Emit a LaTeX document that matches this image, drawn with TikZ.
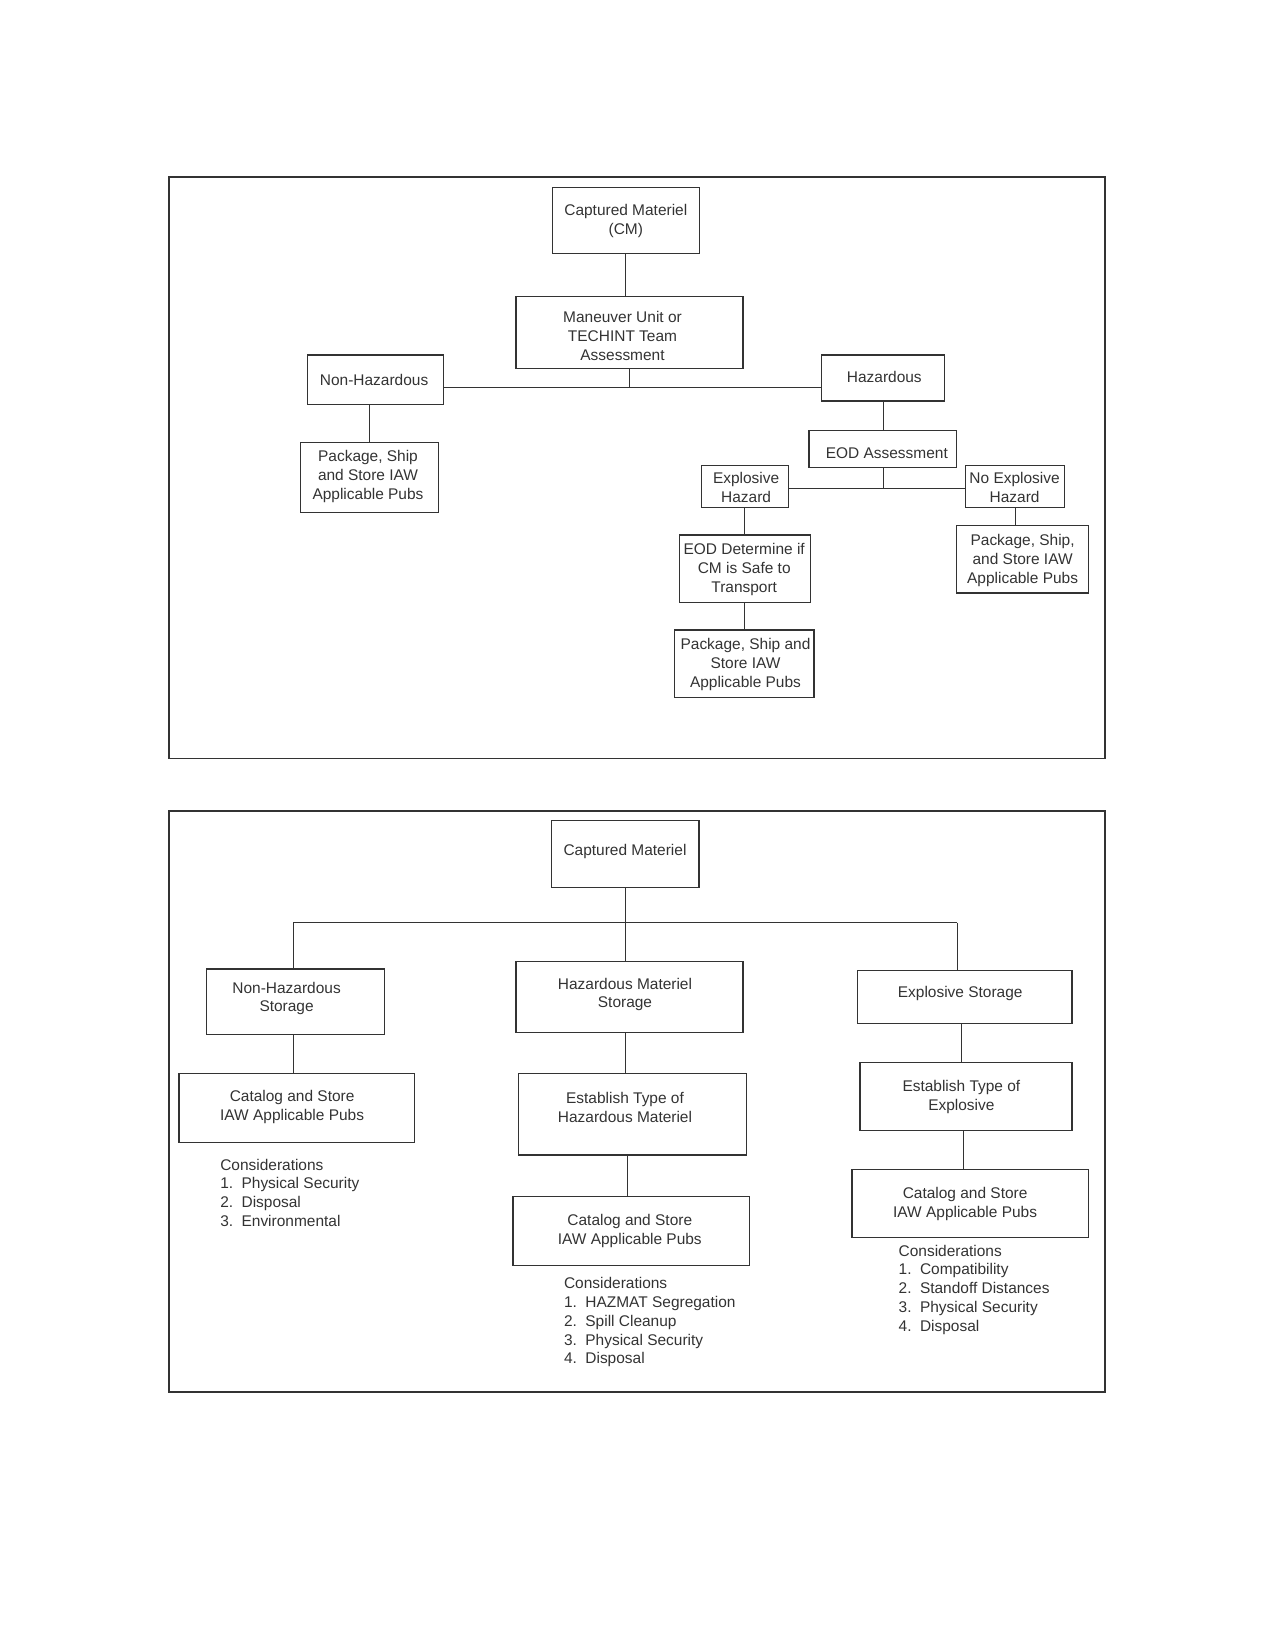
\documentclass[tikz,border=0pt]{standalone}
\usepackage{fontspec}
\setmainfont{Liberation Sans}
\definecolor{ink}{HTML}{333333}
\tikzset{
  box/.style n args={2}{draw=ink,line width=1.1pt,inner sep=0pt,minimum width=#1*0.75pt,minimum height=#2*0.75pt},
  txt/.style={inner sep=0pt,align=center,text=ink,font=\fontsize{11.6}{14.2}\selectfont},
  lst/.style={inner sep=0pt,anchor=base west,text=ink,font=\fontsize{11.6}{14.2}\selectfont},
  conn/.style={draw=ink,line width=0.9pt},
  framebox/.style={draw=ink,line width=1.3pt}}
\begin{document}
\begin{tikzpicture}[x=0.75pt,y=-0.75pt]
\useasboundingbox (0,0) rectangle (1275,1650);

% ---------------- top diagram ----------------
\node[framebox,inner sep=0pt,minimum width=936*0.75pt,minimum height=581.8*0.75pt] (fr1) at (637.3,467.6) {};

\node[box={147}{66}] (cm1) at (625.8,220.4) {};
\node[txt] (cm1t) at (625.8,221) {Captured Materiel\\(CM)};
\node[box={227}{71.6}] (man) at (629.5,332.5) {};
\node[txt] (mant) at (622.5,336) {Maneuver Unit or\\TECHINT Team\\Assessment};
\node[box={136}{49.3}] (nonhaz) at (375.3,379.7) {};
\node[txt] (nonhazt) at (374.1,380) {Non-Hazardous};
\node[box={123}{46}] (haz) at (882.8,378) {};
\node[txt] (hazt) at (884.3,377.3) {Hazardous};
\node[box={137.7}{69.6}] (pk1) at (369.5,477.5) {};
\node[txt] (pk1t) at (368,476.5) {Package, Ship\\and Store IAW\\Applicable Pubs};
\node[box={147.4}{37.4}] (eod) at (882.8,449) {};
\node[txt] (eodt) at (886.8,453.5) {EOD Assessment};
\node[box={86.9}{41.6}] (exh) at (744.8,486.5) {};
\node[txt] (exht) at (746.1,487.2) {Explosive\\Hazard};
\node[box={99}{41.6}] (nexh) at (1015.2,486.5) {};
\node[txt] (nexht) at (1014.6,487.2) {No Explosive\\Hazard};
\node[box={131}{67.7}] (eodd) at (744.8,568.9) {};
\node[txt] (eoddt) at (744.2,569.5) {EOD Determine if\\CM is Safe to\\Transport};
\node[box={139.5}{67.7}] (pk2) at (744.2,663.9) {};
\node[txt] (pk2t) at (745.5,664.8) {Package, Ship and\\Store IAW\\Applicable Pubs};
\node[box={132.2}{67.7}] (pk3) at (1022.6,559.2) {};
\node[txt] (pk3t) at (1022.6,560.3) {Package, Ship,\\and Store IAW\\Applicable Pubs};

\coordinate (j1) at (629.3,387.7);
\coordinate (j2) at (883.7,488.3);
\draw[conn] (cm1.south) -- (cm1.south |- man.north);
\draw[conn] (j1 |- man.south) -- (j1);
\draw[conn] (nonhaz.east |- j1) -- (haz.west |- j1);
\draw[conn] (pk1.north |- nonhaz.south) -- (pk1.north);
\draw[conn] (j2 |- haz.south) -- (j2 |- eod.north);
\draw[conn] (j2 |- eod.south) -- (j2);
\draw[conn] (exh.east |- j2) -- (nexh.west |- j2);
\draw[conn] (exh.south) -- (exh.south |- eodd.north);
\draw[conn] (eodd.south) -- (eodd.south |- pk2.north);
\draw[conn] (nexh.south) -- (nexh.south |- pk3.north);

% ---------------- bottom diagram ----------------
\node[framebox,inner sep=0pt,minimum width=936*0.75pt,minimum height=581.6*0.75pt] (fr2) at (637.3,1101.5) {};

\node[box={147.5}{67}] (cm2) at (625.3,854.2) {};
\node[txt] (cm2t) at (625,851.5) {Captured Materiel};
\node[box={178}{65.3}] (nhs) at (295.5,1001.7) {};
\node[txt] (nhst) at (286.6,998.5) {Non-Hazardous\\Storage};
\node[box={227}{71}] (hms) at (629.5,997.2) {};
\node[txt] (hmst) at (625,994.5) {Hazardous Materiel\\Storage};
\node[box={214.7}{53.4}] (exs) at (964.8,997) {};
\node[txt] (exst) at (960.2,993) {Explosive Storage};
\node[box={235.5}{69}] (cat1) at (296.8,1107.8) {};
\node[txt] (cat1t) at (292.1,1107) {Catalog and Store\\IAW Applicable Pubs};
\node[box={228.2}{81.7}] (eth) at (632.6,1114.2) {};
\node[txt] (etht) at (625,1107) {Establish Type of\\Hazardous Materiel};
\node[box={212.2}{67.6}] (ete) at (966,1096.5) {};
\node[txt] (etet) at (961.4,1096.8) {Establish Type of\\Explosive};
\node[box={236.7}{69}] (cat2) at (631.4,1231.2) {};
\node[txt] (cat2t) at (629.8,1230.8) {Catalog and Store\\IAW Applicable Pubs};
\node[box={236.8}{68}] (cat3) at (970.3,1203.3) {};
\node[txt] (cat3t) at (965.1,1203.6) {Catalog and Store\\IAW Applicable Pubs};

\coordinate (jl) at (293.4,922.7);
\coordinate (jr) at (957.1,922.7);
\coordinate (xm) at (627.4,922.7);
\coordinate (xr1) at (961.4,922.7);
\coordinate (xr2) at (963.2,922.7);
\draw[conn] (cm2.south) -- (cm2.south |- hms.north);
\draw[conn] (jl) -- (jr);
\draw[conn] (jl) -- (jl |- nhs.north);
\draw[conn] (jr) -- (jr |- exs.north);
\draw[conn] (jl |- nhs.south) -- (jl |- cat1.north);
\draw[conn] (cm2.south |- hms.south) -- (cm2.south |- eth.north);
\draw[conn] (xm |- eth.south) -- (xm |- cat2.north);
\draw[conn] (xr1 |- exs.south) -- (xr1 |- ete.north);
\draw[conn] (xr2 |- ete.south) -- (xr2 |- cat3.north);

% considerations lists
\node[lst] (cl0) at (220,1170) {Considerations};
\foreach \t [count=\i] in {Physical Security, Disposal, Environmental}
  \node[lst] (cl\i) at (220,{1170+18.9*\i}) {\makebox[16pt][l]{\i.}\t};
\node[lst] (cm0) at (563.8,1288.3) {Considerations};
\foreach \t [count=\i] in {HAZMAT Segregation, Spill Cleanup, Physical Security, Disposal}
  \node[lst] (cmi\i) at (563.8,{1288.3+18.9*\i}) {\makebox[16pt][l]{\i.}\t};
\node[lst] (cr0) at (898.4,1256) {Considerations};
\foreach \t [count=\i] in {Compatibility, Standoff Distances, Physical Security, Disposal}
  \node[lst] (cr\i) at (898.4,{1256+18.9*\i}) {\makebox[16pt][l]{\i.}\t};
\end{tikzpicture}
\end{document}
